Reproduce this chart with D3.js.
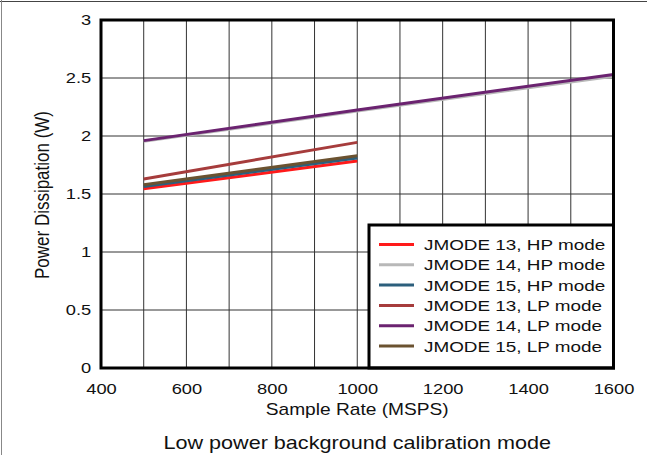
<!DOCTYPE html>
<html><head><meta charset="utf-8">
<script src="https://cdn.jsdelivr.net/npm/d3@7"></script>
<style>body{margin:0;background:#fff}svg{display:block;font-family:"Liberation Sans",Arial,sans-serif}</style>
</head><body><div id="chart"></div>
<script>
// ---- data ----
const seriesNames = ["JMODE 13, HP mode","JMODE 14, HP mode","JMODE 15, HP mode","JMODE 13, LP mode","JMODE 14, LP mode","JMODE 15, LP mode"];
const seriesColors = ["#ff1a1a","#b8b8b8","#2c5f7c","#a63c3c","#6b2370","#6b5230"];
const hp13 = [[500,1.545],[1000,1.785]];
const hp14 = [[500,1.955],[1000,2.215],[1600,2.515]];
const hp15 = [[500,1.565],[1000,1.81]];
const lp13 = [[500,1.63],[1000,1.945]];
const lp14 = [[500,1.96],[1000,2.225],[1600,2.53]];
const lp15 = [[500,1.58],[1000,1.83]];
const seriesData = [hp13,hp14,hp15,lp13,lp14,lp15];
const xTicks = [400,600,800,1000,1200,1400,1600];
const yTicks = [0,0.5,1,1.5,2,2.5,3];
const xGrid = [500,600,700,800,900,1000,1100,1200,1300,1400,1500];
const yGrid = [0.5,1,1.5,2,2.5];
const xTitle = "Sample Rate (MSPS)";
const yTitle = "Power Dissipation (W)";
const chartTitle = "Low power background calibration mode";

// ---- layout ----
const W = 647, H = 455;
const L = 101, R = 613.5, T = 20, B = 368;
const SX = 1.22; // horizontal text stretch
const svg = d3.select("#chart").append("svg").attr("width", W).attr("height", H);

// outer frame edges
svg.append("line").attr("x1",0).attr("x2",W).attr("y1",1.5).attr("y2",1.5).attr("stroke","#444").attr("stroke-width",1);
svg.append("line").attr("x1",1.5).attr("x2",1.5).attr("y1",0).attr("y2",H).attr("stroke","#888").attr("stroke-width",1);

const x = d3.scaleLinear().domain([400,1600]).range([L,R]);
const y = d3.scaleLinear().domain([0,3]).range([B,T]);

// grid
const grid = svg.append("g");
grid.selectAll("line.v").data(xGrid).join("line").attr("class","v")
  .attr("x1",d=>x(d)).attr("x2",d=>x(d)).attr("y1",T).attr("y2",B)
  .attr("stroke","#333").attr("stroke-width",1);
grid.selectAll("line.h").data(yGrid).join("line").attr("class","h")
  .attr("x1",L).attr("x2",R).attr("y1",d=>y(d)).attr("y2",d=>y(d))
  .attr("stroke","#333").attr("stroke-width",1);

// series
const line = d3.line().x(d=>x(d[0])).y(d=>y(d[1]));
svg.append("g").selectAll("path").data(seriesData).join("path")
  .attr("d", line).attr("fill","none")
  .attr("stroke",(d,i)=>seriesColors[i]).attr("stroke-width",3);

// axes labels
const fs = 15;
const xAxis = svg.append("g").attr("transform",`translate(0,${B})`)
  .call(d3.axisBottom(x).tickValues(xTicks).tickSize(0).tickPadding(15).tickFormat(d3.format("d")));
const yAxis = svg.append("g").attr("transform",`translate(${L},0)`)
  .call(d3.axisLeft(y).tickValues(yTicks).tickSize(0).tickPadding(8).tickFormat(d=>String(d)));
[xAxis,yAxis].forEach(a=>{
  a.select(".domain").remove();
  a.selectAll("text").attr("font-size",fs).attr("font-family","Liberation Sans, Arial, sans-serif")
    .attr("fill","#111").attr("transform",`scale(${SX},1)`);
});

function stext(x0,y0,str,size,rot,sx){
  return svg.append("text")
    .attr("transform",`translate(${x0},${y0}) scale(${sx||SX},1)` + (rot?` rotate(${rot})`:""))
    .attr("text-anchor","middle").attr("font-size",size).attr("fill","#111").text(str);
}
stext((L+R)/2, 415, xTitle, 15.7);
stext((L+R)/2, 449, chartTitle, 18, 0, 1.2);
stext(49, (T+B)/2 + 1, yTitle, 17, -90, 1.15);

// legend
const lgX = 369, lgY = 225;
const lg = svg.append("g");
lg.append("rect").attr("x",lgX).attr("y",lgY).attr("width",R-lgX).attr("height",B-lgY)
  .attr("fill","#fff").attr("stroke","#000").attr("stroke-width",3);
seriesNames.forEach((n,i)=>{
  const yy = 244.5 + i*20.3;
  lg.append("line").attr("x1",379).attr("x2",414).attr("y1",yy).attr("y2",yy)
    .attr("stroke",seriesColors[i]).attr("stroke-width",3);
  lg.append("text").attr("transform",`translate(424,${yy+5.5}) scale(${SX},1)`)
    .attr("font-size",15.5).attr("fill","#111").text(n);
});

// plot frame
svg.append("rect").attr("x",L).attr("y",T).attr("width",R-L).attr("height",B-T)
  .attr("fill","none").attr("stroke","#000").attr("stroke-width",3);
</script></body></html>
